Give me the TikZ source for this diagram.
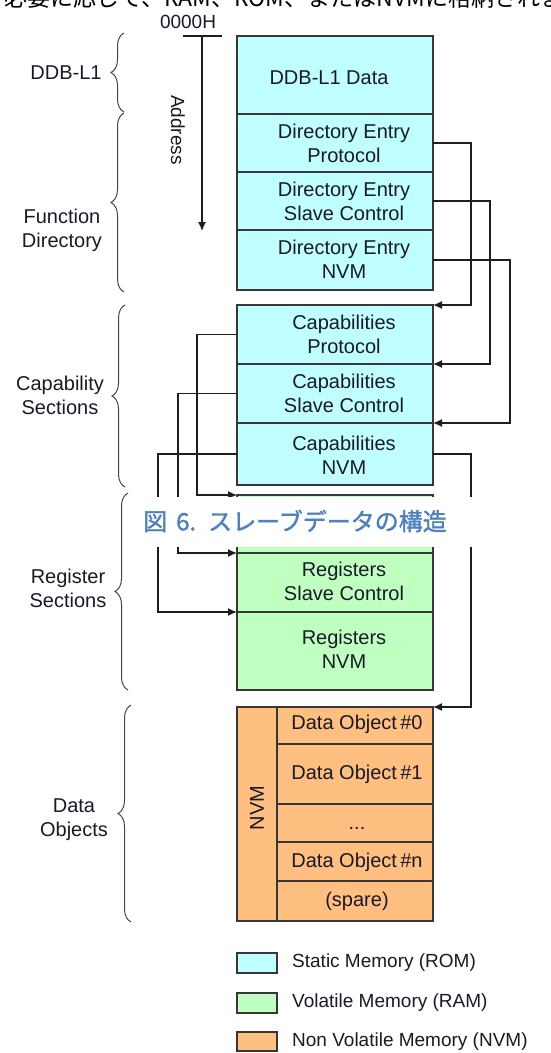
\documentclass[tikz,border=0pt]{standalone}
\usepackage{fontspec}
\setmainfont{Liberation Sans}
\newfontfamily\jpfont{Noto Sans CJK JP}
\newfontfamily\capfont[FakeBold=1.6]{Noto Sans CJK JP}
\usetikzlibrary{arrows.meta,decorations.pathreplacing,calc}
\definecolor{romfill}{RGB}{191,255,255}
\definecolor{ramfill}{RGB}{191,255,191}
\definecolor{nvmfill}{RGB}{255,191,128}
\definecolor{edge}{RGB}{55,55,55}
\definecolor{txtc}{RGB}{25,25,40}
\definecolor{connc}{RGB}{30,30,30}
\definecolor{bracec}{RGB}{70,70,70}
\definecolor{capblue}{RGB}{79,129,189}
\begin{document}
\begin{tikzpicture}[x=1pt,y=-1pt,
  cell/.style={draw=edge, line width=1.6pt, anchor=north west, inner sep=0pt, outer sep=0pt},
  rom/.style={cell, fill=romfill},
  ram/.style={cell, fill=ramfill},
  nvm/.style={cell, fill=nvmfill},
  txt/.style={font=\fontsize{20}{24}\selectfont, align=center, text=txtc, inner sep=0pt},
  lgtxt/.style={font=\fontsize{19}{23}\selectfont, text=txtc, inner sep=0pt, anchor=west},
  conn/.style={draw=connc, line width=1.3pt},
  arr/.style={conn, -{Latex[length=9pt,width=8pt]}},
  brc/.style={draw=bracec, line width=1pt, decorate, decoration={brace, amplitude=13pt}},
]
\useasboundingbox (0,0) rectangle (550,1053);

% line of text cut by the top edge (as in the reference)
\node[anchor=base west, inner sep=0pt, text=black, font=\jpfont\fontsize{23}{23}\selectfont] (topline) at (4,6) {必要に応じて、RAM、ROM、またはNVMに格納されます。};

% address axis
\node[txt, font=\fontsize{19}{23}\selectfont] (addr0) at (188,22) {0000H};
\coordinate (tickL) at (183,36);
\coordinate (tickR) at (222,36);
\coordinate (axtop) at (202,36);
\coordinate (axbot) at (202,231);
\draw[conn] (tickL) -- (tickR);
\draw[arr] (axtop) -- (axbot);
\node[txt, font=\fontsize{19}{23}\selectfont, rotate=-90] (addr) at (178,130) {Address};

% ROM: DDB and function directory
\node[rom, minimum width=196pt, minimum height=78pt] (ddb) at (237,36) {};
\node[rom, minimum width=196pt, minimum height=58pt] (dirP) at (237,114) {};
\node[rom, minimum width=196pt, minimum height=58pt] (dirS) at (237,172) {};
\node[rom, minimum width=196pt, minimum height=60pt] (dirN) at (237,230) {};
\node[txt] (tddb) at (329,78) {DDB-L1 Data};
\node[txt] (tdirP) at (344,143) {Directory Entry\\Protocol};
\node[txt] (tdirS) at (344,201) {Directory Entry\\Slave Control};
\node[txt] (tdirN) at (344,259) {Directory Entry\\NVM};

% ROM: capabilities
\node[rom, minimum width=196pt, minimum height=59pt] (capP) at (237,305) {};
\node[rom, minimum width=196pt, minimum height=59pt] (capS) at (237,364) {};
\node[rom, minimum width=196pt, minimum height=62pt] (capN) at (237,423) {};
\node[txt] (tcapP) at (344,334) {Capabilities\\Protocol};
\node[txt] (tcapS) at (344,393) {Capabilities\\Slave Control};
\node[txt] (tcapN) at (344,455) {Capabilities\\NVM};

% RAM: registers
\node[ram, minimum width=196pt, minimum height=58pt] (regP) at (237,495) {};
\node[ram, minimum width=196pt, minimum height=59pt] (regS) at (237,553) {};
\node[ram, minimum width=196pt, minimum height=78pt] (regN) at (237,612) {};
\node[txt] (tregS) at (344,581) {Registers\\Slave Control};
\node[txt] (tregN) at (344,649) {Registers\\NVM};

% NVM: data objects
\node[nvm, minimum width=40pt, minimum height=214pt] (nvmcol) at (237,707) {};
\node[nvm, minimum width=156pt, minimum height=37pt] (do0) at (277,707) {};
\node[nvm, minimum width=156pt, minimum height=60pt] (do1) at (277,744) {};
\node[nvm, minimum width=156pt, minimum height=38pt] (dodots) at (277,804) {};
\node[nvm, minimum width=156pt, minimum height=39pt] (don) at (277,842) {};
\node[nvm, minimum width=156pt, minimum height=40pt] (dosp) at (277,881) {};
\draw[draw=edge, line width=1.6pt] (nvmcol.north west) rectangle (dosp.south east);
\node[txt, rotate=90] (tnvm) at (257,808) {NVM};
\node[txt] (tdo0) at (357,724) {Data Object\,\#0};
\node[txt] (tdo1) at (357,774) {Data Object\,\#1};
\node[txt] (tdots) at (357,828) {...};
\node[txt] (tdon) at (357,862) {Data Object\,\#n};
\node[txt] (tdosp) at (357,901) {(spare)};

% connectors, right side
\draw[arr] (dirP.east) -- ++(38,0) |- (capP.north east);
\draw[arr] (dirS.east) -- ++(57,0) |- (capS.north east);
\draw[arr] (dirN.east) -- ++(77,0) |- (capN.north east);
\draw[arr] (capN.east) -- ++(38,0) |- (do0.north east);
% connectors, left side
\draw[arr] (capP.west) -- ++(-40,0) |- (regP.north west);
\draw[arr] (capS.west) -- ++(-59,0) |- (regS.north west);
\draw[arr] (capN.west) -- ++(-79,0) |- (regN.north west);

% braces and section labels
\draw[brc] (124,112) -- (124,33);
\draw[brc] (124,292) -- (124,113);
\draw[brc] (125,487) -- (125,305);
\draw[brc] (128,690) -- (128,493);
\draw[brc] (131,922) -- (131,705);
\node[txt] (lddb) at (66,73) {DDB-L1};
\node[txt] (lfd) at (62,230) {Function\\Directory};
\node[txt] (lcap) at (60,395) {Capability\\Sections};
\node[txt] (lreg) at (68,588) {Register\\Sections};
\node[txt] (ldo) at (74,820) {Data\\Objects};

% caption over the figure
\node[fill=white, anchor=north west, minimum width=380pt, minimum height=50pt, inner sep=0pt] (capbg) at (140,497) {};
\node[anchor=west, inner sep=0pt, text=capblue, font=\capfont\fontsize{24}{26}\selectfont] (caption) at (143,521) {図\hspace{9pt}6.\hspace{12pt}スレーブデータの構造};

% legend
\node[rom, minimum width=40pt, minimum height=20pt] (lg1) at (237,953) {};
\node[ram, minimum width=40pt, minimum height=20pt] (lg2) at (237,993) {};
\node[nvm, minimum width=40pt, minimum height=19pt] (lg3) at (237,1032) {};
\node[lgtxt] (lgt1) at (292,963) {Static Memory (ROM)};
\node[lgtxt] (lgt2) at (292,1003) {Volatile Memory (RAM)};
\node[lgtxt] (lgt3) at (292,1042) {Non Volatile Memory (NVM)};
\end{tikzpicture}
\end{document}
